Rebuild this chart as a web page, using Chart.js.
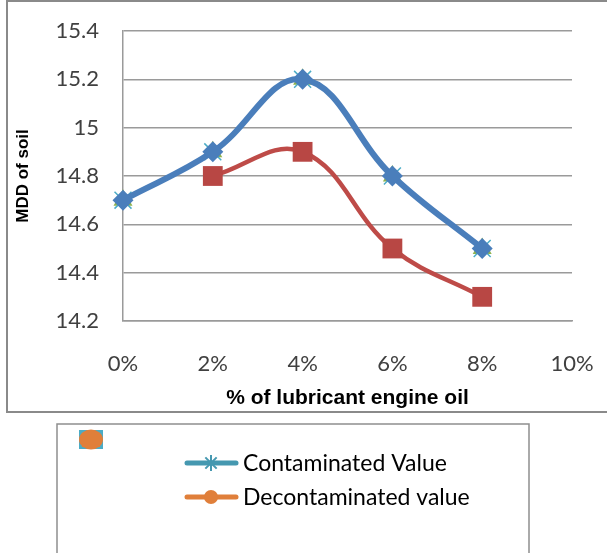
<!DOCTYPE html>
<html>
<head>
<meta charset="utf-8">
<script src="https://cdn.jsdelivr.net/npm/chart.js@4.4.1/dist/chart.umd.min.js"></script>
<style>
  html, body { margin: 0; padding: 0; background: #ffffff; }
  #wrap { width: 607px; height: 553px; position: relative; }
</style>
</head>
<body>
<div id="wrap"><canvas id="c" width="607" height="553"></canvas></div>
<script>
// Oil content categories and MDD readings
const categories = ['0%', '2%', '4%', '6%', '8%', '10%'];
const contaminated = [14.7, 14.9, 15.2, 14.8, 14.5, null];
const decontaminated = [null, 14.8, 14.9, 14.5, 14.3, null];
const yTickLabels = ['14.2', '14.4', '14.6', '14.8', '15', '15.2', '15.4'];
const seriesNames = ['Contaminated Value', 'Decontaminated value'];
const xTitle = '% of lubricant engine oil';
const yTitle = 'MDD of soil';

const GRID = '#9a9a9a';
const TICK_FONT = { family: 'Lato', size: 22 };

// Frame around the plot and the separate legend panel underneath it
const framePlugin = {
  id: 'frame',
  beforeDraw(chart) {
    const ctx = chart.ctx;
    ctx.save();
    ctx.fillStyle = '#ffffff';
    ctx.fillRect(0, 0, chart.width, chart.height);
    ctx.strokeStyle = '#8a8a8a';
    ctx.lineWidth = 2;
    ctx.strokeRect(7, 1, 640, 411);
    ctx.restore();
  },
  afterDraw(chart) {
    const ctx = chart.ctx;
    ctx.save();
    ctx.strokeStyle = '#8e8e8e';
    ctx.lineWidth = 1.5;
    ctx.strokeRect(57, 424, 472, 200);

    // small stray key swatch in the panel corner
    ctx.fillStyle = '#4BACC6';
    ctx.fillRect(79, 430, 24, 19);
    ctx.fillStyle = '#E07F3A';
    ctx.beginPath();
    ctx.ellipse(91, 439.5, 12, 10, 0, 0, Math.PI * 2);
    ctx.fill();
    ctx.fillRect(82, 433, 18, 14);

    const entries = [
      { label: seriesNames[0], color: '#4598B0', style: 'star', y: 463 },
      { label: seriesNames[1], color: '#E07F3A', style: 'circle', y: 497 }
    ];
    entries.forEach(e => {
      ctx.strokeStyle = e.color;
      ctx.lineWidth = 5;
      ctx.lineCap = 'round';
      ctx.beginPath();
      ctx.moveTo(187, e.y);
      ctx.lineTo(236, e.y);
      ctx.stroke();
      ctx.fillStyle = e.color;
      ctx.strokeStyle = e.color;
      if (e.style === 'circle') {
        ctx.beginPath();
        ctx.arc(211, e.y, 7, 0, Math.PI * 2);
        ctx.fill();
      } else {
        ctx.lineWidth = 2;
        ctx.lineCap = 'butt';
        Chart.helpers.drawPoint(ctx, { pointStyle: 'star', radius: 8, borderWidth: 2, rotation: 0 }, 211, e.y);
      }
      ctx.fillStyle = '#000000';
      ctx.font = '23px Lato';
      ctx.textAlign = 'left';
      ctx.textBaseline = 'middle';
      ctx.fillText(e.label, 243, e.y + 1);
    });
    ctx.restore();
  }
};

function draw() {
  new Chart(document.getElementById('c'), {
    type: 'line',
    data: {
      labels: categories,
      datasets: [
        {
          label: seriesNames[1],
          data: decontaminated,
          borderColor: '#BE4B48',
          backgroundColor: '#BE4B48',
          borderWidth: 4.5,
          tension: 0.4,
          pointStyle: 'rect',
          pointRadius: 14,
          pointBorderWidth: 0,
          pointBackgroundColor: '#B84744',
          clip: false,
          order: 0
        },
        {
          label: seriesNames[0],
          data: contaminated,
          borderColor: '#4A7EBB',
          backgroundColor: '#4A7EBB',
          borderWidth: 6,
          tension: 0.4,
          pointStyle: 'rectRot',
          pointRadius: 10.5,
          pointBorderWidth: 0,
          pointBackgroundColor: '#4A7EBB',
          clip: false,
          order: 1
        },
        {
          label: seriesNames[0] + ' ',
          data: contaminated,
          showLine: false,
          pointStyle: 'crossRot',
          pointRadius: 12,
          pointBorderWidth: 1.5,
          pointBorderColor: '#4BACC6',
          pointBackgroundColor: '#4BACC6',
          clip: false,
          order: 2
        },
        {
          label: seriesNames[0] + '  ',
          data: contaminated,
          showLine: false,
          pointStyle: 'triangle',
          pointRadius: 11,
          pointBorderWidth: 0,
          pointBackgroundColor: '#8FB34E',
          clip: false,
          order: 3
        }
      ]
    },
    options: {
      responsive: false,
      animation: false,
      devicePixelRatio: 1,
      layout: { padding: { left: 0, top: 31, right: 35, bottom: 141 } },
      plugins: {
        legend: { display: false },
        tooltip: { enabled: false }
      },
      scales: {
        x: {
          type: 'category',
          offset: false,
          grid: { display: false, drawTicks: false },
          border: { display: true, color: GRID, width: 1.5 },
          ticks: { font: TICK_FONT, color: '#404040', padding: 30, maxRotation: 0, autoSkip: false },
          title: {
            display: true, text: xTitle, color: '#000000',
            font: { family: 'Liberation Sans', weight: 'bold', size: 21 },
            padding: { top: 0, bottom: 1 }
          },
          afterFit(scale) {
            scale.height = 91;
            scale.paddingLeft = 0;
            scale.paddingRight = 0;
          }
        },
        y: {
          min: 14.2,
          max: 15.4,
          grid: { color: GRID, lineWidth: 1.5, drawTicks: false },
          border: { display: true, color: GRID, width: 1.5 },
          ticks: {
            stepSize: 0.2,
            font: TICK_FONT,
            color: '#404040',
            padding: 24,
            callback: (v, i) => yTickLabels[i]
          },
          title: {
            display: true, text: yTitle, color: '#000000',
            font: { family: 'Liberation Sans', weight: 'bold', size: 17 },
            padding: { top: 13, bottom: 0 }
          },
          afterFit(scale) {
            scale.width = 123;
            scale.paddingTop = 0;
            scale.paddingBottom = 0;
          }
        }
      }
    },
    plugins: [framePlugin]
  });
}

Promise.all([
  document.fonts.load('22px Lato'),
  document.fonts.load('bold 19px "Liberation Sans"')
]).then(draw, draw);
</script>
</body>
</html>
